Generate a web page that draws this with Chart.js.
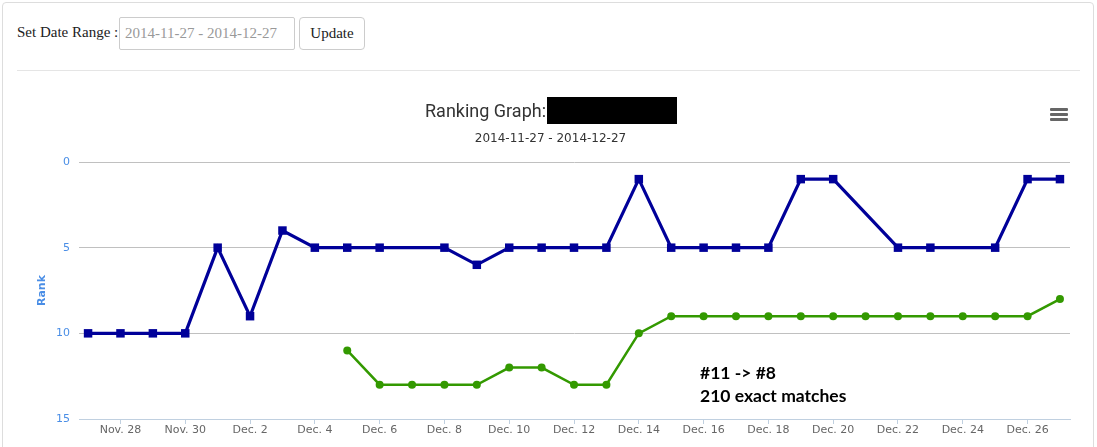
<!DOCTYPE html>
<html>
<head>
<meta charset="utf-8">
<script src="https://cdn.jsdelivr.net/npm/chart.js@4/dist/chart.umd.min.js"></script>
<style>
    body { margin: 0; background: #fff; width: 1097px; height: 447px; overflow: hidden; position: relative; }
    #panel { position: absolute; left: 2px; top: 2px; width: 1090px; height: 470px; border: 1px solid #ddd; border-radius: 4px; }
    #rango { position: absolute; left: 17px; top: 24px; font: 15px "Liberation Serif", serif; color: #222; }
    #fechas { position: absolute; left: 119px; top: 17px; border: 1px solid #ccc; border-radius: 2px;
        font: 15px "Liberation Serif", serif; color: #999; line-height: 31px; padding-left: 5px; box-sizing: border-box; width: 176px; height: 33px; }
    #boton { position: absolute; left: 299px; top: 17px; width: 66px; height: 33px; border: 1px solid #ccc; border-radius: 4px;
        font: 15px "Liberation Serif", serif; color: #222; line-height: 31px; text-align: center; box-sizing: border-box; }
    #linea { position: absolute; left: 17px; top: 70px; width: 1063px; border-top: 1px solid #e5e5e5; }
    #titulo { position: absolute; left: 425px; top: 100px; font: 18px Roboto, sans-serif; color: #333; }
    #tapado { position: absolute; left: 547px; top: 97px; width: 130px; height: 27px; background: #000; }
    #subtitulo { position: absolute; left: 0; width: 1097px; top: 131px; text-align: center; font: 12px "DejaVu Sans", sans-serif; color: #333; padding-left: 2px; }
    #menu { position: absolute; left: 1050px; top: 108px; width: 18px; }
    #menu div { height: 3px; background: #666; margin-bottom: 2px; border-radius: 1px; }
    #nota { position: absolute; left: 700px; top: 361px; font: bold 17.5px Lato, sans-serif; color: #000; line-height: 23px; }
    #grafica { position: absolute; left: 0; top: 0; }
</style>
</head>
<body>
<div id="panel"></div>
<div id="rango">Set Date Range :</div>
<div id="fechas">2014-11-27 - 2014-12-27</div>
<div id="boton">Update</div>
<div id="linea"></div>
<canvas id="grafica" width="1097" height="447"></canvas>
<div id="titulo">Ranking Graph:</div>
<div id="tapado"></div>
<div id="subtitulo">2014-11-27 - 2014-12-27</div>
<div id="menu"><div></div><div></div><div></div></div>
<div id="nota">#11 -&gt; #8<br>210 exact matches</div>
<script>
/*global Chart*/

// Días del rango (uno por punto)
const dias = ["Nov. 27", "Nov. 28", "Nov. 29", "Nov. 30", "Dec. 1", "Dec. 2", "Dec. 3", "Dec. 4",
    "Dec. 5", "Dec. 6", "Dec. 7", "Dec. 8", "Dec. 9", "Dec. 10", "Dec. 11", "Dec. 12", "Dec. 13",
    "Dec. 14", "Dec. 15", "Dec. 16", "Dec. 17", "Dec. 18", "Dec. 19", "Dec. 20", "Dec. 21",
    "Dec. 22", "Dec. 23", "Dec. 24", "Dec. 25", "Dec. 26", "Dec. 27"];

// Posiciones en el ranking (null = sin dato ese día)
const rankingAzul = [10, 10, 10, 10, 5, 9, 4, 5, 5, 5, null, 5, 6, 5, 5, 5, 5, 1, 5, 5, 5, 5, 1, 1,
    null, 5, 5, null, 5, 1, 1];
const rankingVerde = [null, null, null, null, null, null, null, null, 11, 13, 13, 13, 13, 12, 12,
    13, 13, 10, 9, 9, 9, 9, 9, 9, 9, 9, 9, 9, 9, 9, 8];

const ticksRank = [0, 5, 10, 15];

function crearGrafica() {
    const ctx = document.getElementById("grafica").getContext("2d");

    const puntos = serie => serie.map((v, i) => ({ x: i, y: v }));

    new Chart(ctx, {
        type: "line",
        data: {
            datasets: [
                {
                    data: puntos(rankingAzul),
                    borderColor: "#000099",
                    backgroundColor: "#000099",
                    borderWidth: 3.2,
                    pointStyle: "rect",
                    pointRadius: 6,
                    pointBorderWidth: 0,
                    spanGaps: true,
                },
                {
                    data: puntos(rankingVerde),
                    borderColor: "#339900",
                    backgroundColor: "#339900",
                    borderWidth: 2.5,
                    pointStyle: "circle",
                    pointRadius: 4,
                    pointBorderWidth: 0,
                    spanGaps: true,
                },
            ],
        },
        options: {
            responsive: false,
            animation: false,
            layout: { padding: { top: 162, right: 27, left: 0, bottom: 0 } },
            plugins: { legend: { display: false }, tooltip: { enabled: false } },
            scales: {
                x: {
                    type: "linear",
                    min: -0.28,
                    max: 30.31,
                    afterFit: s => { s.height = 28; },
                    border: { color: "#C0D0E0" },
                    grid: {
                        drawOnChartArea: false,
                        tickLength: 5,
                        color: "#C0D0E0",
                    },
                    ticks: {
                        stepSize: 1,
                        autoSkip: false,
                        includeBounds: false,
                        maxRotation: 0,
                        padding: 0,
                        color: "#666",
                        font: { family: "DejaVu Sans", size: 11 },
                        callback: v => (Number.isInteger(v) && v % 2 === 1) ? dias[v] : null,
                    },
                },
                y: {
                    reverse: true,
                    min: 0,
                    max: 15,
                    afterFit: s => { s.width = 79; },
                    afterBuildTicks: s => { s.ticks = ticksRank.map(v => ({ value: v })); },
                    border: { display: false },
                    grid: { color: "#C0C0C0", drawTicks: false },
                    ticks: {
                        padding: 9,
                        color: "#4a8ee6",
                        font: { family: "DejaVu Sans", size: 11 },
                    },
                    title: {
                        display: true,
                        text: "Rank",
                        color: "#4a8ee6",
                        font: { family: "DejaVu Sans", size: 11, weight: "bold" },
                        padding: { top: 36, bottom: 0 },
                    },
                },
            },
        },
    });
}

crearGrafica();
</script>
</body>
</html>
